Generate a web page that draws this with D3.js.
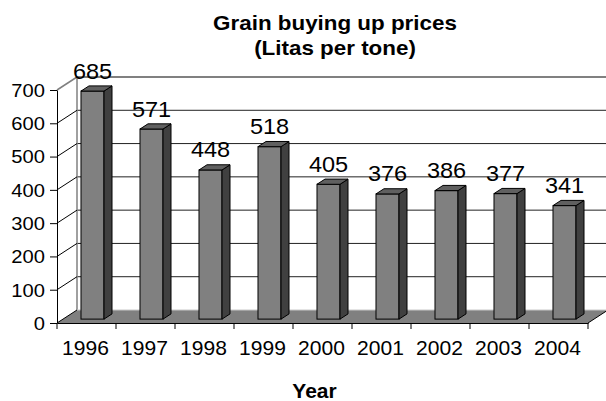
<!DOCTYPE html>
<html>
<head>
<meta charset="utf-8">
<script src="https://cdn.jsdelivr.net/npm/d3@7"></script>
<style>
  html, body { margin: 0; padding: 0; background: #fff; }
  svg { display: block; font-family: "Liberation Sans", Arial, sans-serif; }
</style>
</head>
<body>
<svg id="chart" width="606" height="401"></svg>
<script>
// ---- data ----
const years = ["1996", "1997", "1998", "1999", "2000", "2001", "2002", "2003", "2004"];
const prices = [685, 571, 448, 518, 405, 376, 386, 377, 341];
const yTicks = [0, 100, 200, 300, 400, 500, 600, 700];
const titleLines = ["Grain buying up prices", "(Litas per tone)"];
const xTitle = "Year";

// ---- layout ----
const svg = d3.select("#chart");
const plotLeft = 57, plotRight = 588, plotBottom = 323, plotTop = 90;
const depth = { dx: 20, dy: -13 };       // full depth of the 3D box
const barDepth0 = 0.3, barDepth1 = 0.7;  // bar placement along depth

const x = d3.scaleBand().domain(years).range([plotLeft, plotRight]).padding(0);
const y = d3.scaleLinear().domain([0, 700]).range([plotBottom, plotTop]);

const bw = x.bandwidth();
const barW = bw * 0.39;

// ---- back wall ----
const back = svg.append("g");
back.append("rect")
  .attr("x", plotLeft + depth.dx).attr("y", y(700) + depth.dy)
  .attr("width", plotRight - plotLeft + 2).attr("height", y(0) - y(700))
  .attr("fill", "#fff");
back.selectAll("line.grid").data(yTicks.filter(d => d > 0 && d < 700)).join("line")
  .attr("class", "grid")
  .attr("x1", plotLeft + depth.dx).attr("x2", 606)
  .attr("y1", d => y(d) + depth.dy).attr("y2", d => y(d) + depth.dy)
  .attr("stroke", "#222").attr("stroke-width", 1);
back.append("line")
  .attr("x1", plotLeft + depth.dx).attr("x2", 606)
  .attr("y1", y(700) + depth.dy).attr("y2", y(700) + depth.dy)
  .attr("stroke", "#808080").attr("stroke-width", 2);

// ---- left side wall ----
const side = svg.append("g");
side.append("line")
  .attr("x1", plotLeft + depth.dx).attr("x2", plotLeft + depth.dx)
  .attr("y1", y(700) + depth.dy).attr("y2", y(0) + depth.dy)
  .attr("stroke", "#808080").attr("stroke-width", 1.5);
side.selectAll("line.diag").data(yTicks.filter(d => d > 0)).join("line")
  .attr("class", "diag")
  .attr("x1", plotLeft).attr("y1", d => y(d))
  .attr("x2", plotLeft + depth.dx).attr("y2", d => y(d) + depth.dy)
  .attr("stroke", d => d === 700 ? "#808080" : "#000")
  .attr("stroke-width", d => d === 700 ? 1.5 : 1);

// ---- floor ----
svg.append("polygon")
  .attr("points", [
    [plotLeft, y(0)], [plotRight, y(0)],
    [plotRight + depth.dx, y(0) + depth.dy], [plotLeft + depth.dx, y(0) + depth.dy]
  ].map(p => p.join(",")).join(" "))
  .attr("fill", "#808080");
svg.append("line")
  .attr("x1", plotLeft + depth.dx).attr("x2", 606)
  .attr("y1", y(0) + depth.dy).attr("y2", y(0) + depth.dy)
  .attr("stroke", "#c8c8c8").attr("stroke-width", 1);
svg.append("line")
  .attr("x1", plotLeft).attr("y1", y(0))
  .attr("x2", plotLeft + depth.dx).attr("y2", y(0) + depth.dy)
  .attr("stroke", "#000").attr("stroke-width", 1);
svg.append("line")
  .attr("x1", plotRight).attr("y1", y(0))
  .attr("x2", plotRight + depth.dx).attr("y2", y(0) + depth.dy)
  .attr("stroke", "#000").attr("stroke-width", 1);

// ---- bars ----
const bdx0 = depth.dx * barDepth0, bdy0 = depth.dy * barDepth0;
const bdx = depth.dx * (barDepth1 - barDepth0), bdy = depth.dy * (barDepth1 - barDepth0);
const bars = svg.append("g").selectAll("g").data(years.map((c, i) => ({ c, v: prices[i] }))).join("g");
bars.each(function(d) {
  const g = d3.select(this);
  const x0 = x(d.c) + (bw - barW) / 2 + bdx0;
  const x1 = x0 + barW;
  const yb = y(0) + bdy0;
  const yt = y(d.v) + bdy0;
  g.append("rect").attr("x", x0).attr("y", yt).attr("width", barW).attr("height", yb - yt)
    .attr("fill", "#808080").attr("stroke", "#000").attr("stroke-width", 1);
  g.append("polygon")
    .attr("points", [[x1, yb], [x1 + bdx, yb + bdy], [x1 + bdx, yt + bdy], [x1, yt]].map(p => p.join(",")).join(" "))
    .attr("fill", "#404040").attr("stroke", "#000").attr("stroke-width", 1).attr("stroke-linejoin", "round");
  g.append("polygon")
    .attr("points", [[x0, yt], [x1, yt], [x1 + bdx, yt + bdy], [x0 + bdx, yt + bdy]].map(p => p.join(",")).join(" "))
    .attr("fill", "#606060").attr("stroke", "#000").attr("stroke-width", 1).attr("stroke-linejoin", "round");
  g.append("text")
    .attr("transform", `translate(${x0 + barW / 2},${yt - 12.5}) scale(1.07,1)`)
    .attr("text-anchor", "middle").attr("font-size", 22).attr("fill", "#000")
    .text(d.v);
});

// ---- axes ----
const yAxis = svg.append("g").attr("transform", `translate(${plotLeft},0)`)
  .call(d3.axisLeft(y).tickValues(yTicks).tickSize(7).tickSizeOuter(0).tickFormat(d3.format("d")));
yAxis.select(".domain").attr("stroke", "#000");
yAxis.selectAll(".tick line").attr("stroke", "#000");
yAxis.selectAll(".tick text")
  .attr("x", null).attr("dy", null)
  .attr("transform", "translate(-12,6.3) scale(1.12,1)")
  .attr("font-size", 18).attr("font-family", "Liberation Sans, Arial, sans-serif").attr("fill", "#000");

const xAxis = svg.append("g").attr("transform", `translate(0,${plotBottom})`)
  .call(d3.axisBottom(x).tickSize(0).tickSizeOuter(0));
xAxis.select(".domain").attr("stroke", "#000");
xAxis.selectAll(".tick text")
  .attr("y", null).attr("dy", null)
  .attr("transform", "translate(-1,32) scale(1.08,1)")
  .attr("font-size", 19.5).attr("font-family", "Liberation Sans, Arial, sans-serif").attr("fill", "#000");
xAxis.selectAll("line.btick").data(years.map(c => x(c)).concat([plotRight])).join("line")
  .attr("class", "btick")
  .attr("x1", d => d).attr("x2", d => d).attr("y1", 0).attr("y2", 6)
  .attr("stroke", "#000");

// ---- titles ----
svg.selectAll("text.title").data(titleLines).join("text")
  .attr("class", "title")
  .attr("transform", (d, i) => `translate(335,${29.5 + i * 25.5}) scale(1.12,1)`)
  .attr("text-anchor", "middle").attr("font-size", 20).attr("font-weight", "bold")
  .text(d => d);

svg.append("text")
  .attr("transform", "translate(314.5,397.5) scale(1.05,1)")
  .attr("text-anchor", "middle").attr("font-size", 20).attr("font-weight", "bold")
  .text(xTitle);
</script>
</body>
</html>
